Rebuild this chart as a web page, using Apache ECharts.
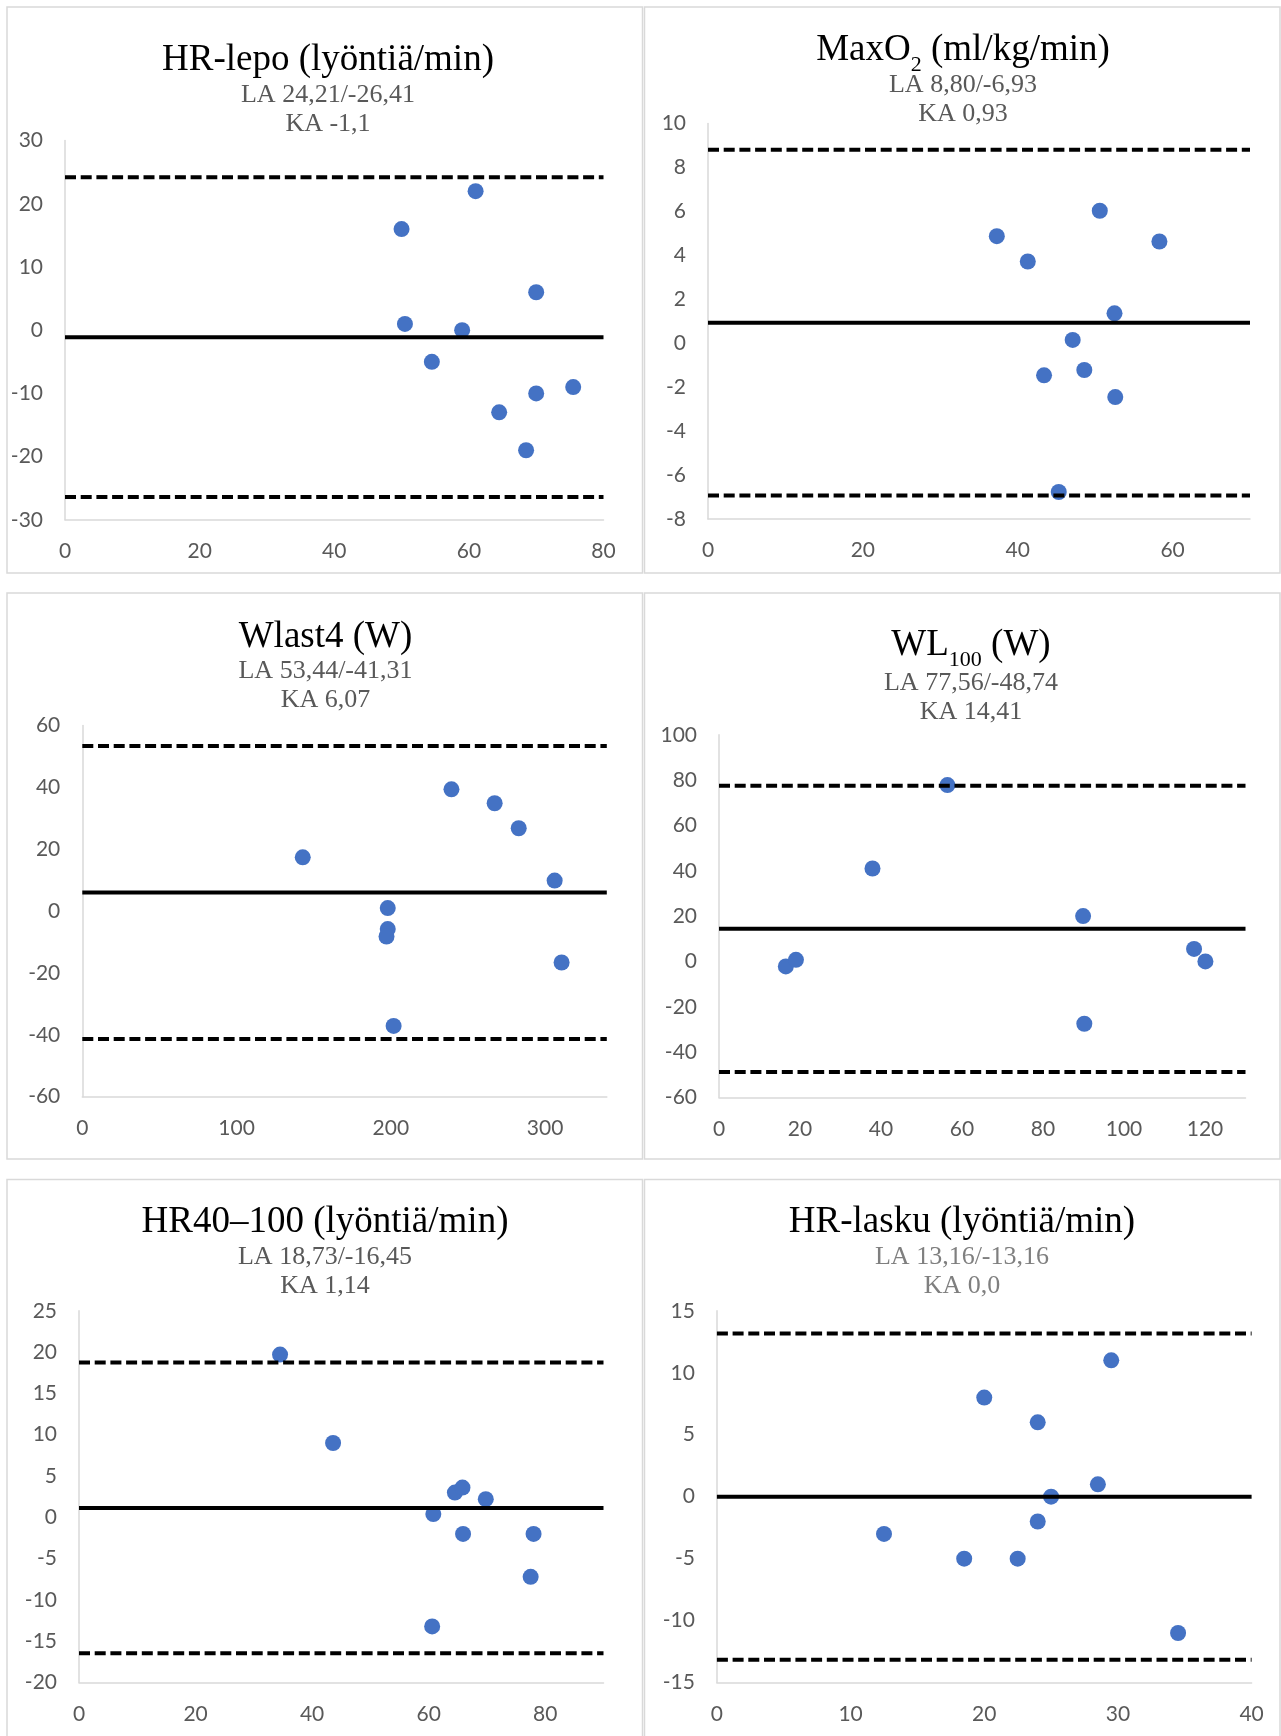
<!DOCTYPE html>
<html>
<head>
<meta charset="utf-8">
<title>Bland-Altman</title>
<script src="https://cdn.jsdelivr.net/npm/echarts@6/dist/echarts.min.js"></script>
<style>
  html, body { margin: 0; padding: 0; background: #fff; }
  #main { width: 1281px; height: 1736px; }
</style>
</head>
<body>
<div id="main"></div>
<script>
// HR-lepo (lyöntiä/min)
const hrLepoX = [50, 61, 50.5, 59, 70, 54.5, 70, 75.5, 64.5, 68.5];
const hrLepoY = [16, 22, 1, 0, 6, -5, -10, -9, -13, -19];
const hrLepoLimits = [24.21, -1.1, -26.41];

// MaxO2 (ml/kg/min)
const maxO2X = [37.3, 41.3, 50.6, 58.3, 52.5, 47.1, 43.4, 48.6, 52.6, 45.3];
const maxO2Y = [4.87, 3.72, 6.03, 4.63, 1.36, 0.15, -1.46, -1.22, -2.45, -6.77];
const maxO2Limits = [8.80, 0.93, -6.93];

// Wlast4 (W)
const wlast4X = [142.9, 239.3, 267.3, 282.9, 306.2, 198, 198, 197.2, 310.7, 201.8];
const wlast4Y = [17.4, 39.4, 34.9, 26.8, 9.9, 1.0, -5.8, -8.2, -16.6, -37.1];
const wlast4Limits = [53.44, 6.07, -41.31];

// WL100 (W)
const wl100X = [16.5, 19, 37.9, 56.4, 89.9, 90.2, 117.3, 120.1];
const wl100Y = [-2.2, 0.7, 41, 77.8, 20, -27.5, 5.5, 0];
const wl100Limits = [77.56, 14.41, -48.74];

// HR40-100 (lyöntiä/min)
const hr40X = [34.5, 43.6, 64.5, 65.8, 69.8, 60.8, 65.9, 78, 77.5, 60.6];
const hr40Y = [19.7, 9, 3, 3.6, 2.2, 0.4, -2, -2, -7.2, -13.2];
const hr40Limits = [18.73, 1.14, -16.45];

// HR-lasku (lyöntiä/min)
const hrLaskuX = [12.5, 18.5, 20, 22.5, 24, 24, 25, 28.5, 29.5, 34.5];
const hrLaskuY = [-3, -5, 8, -5, 6, -2, 0, 1, 11, -11];
const hrLaskuLimits = [13.16, 0, -13.16];

// axis scales: [min, max, interval]
const xScales = [[0, 80, 20], [0, 70, 20], [0, 340, 100], [0, 130, 20], [0, 90, 20], [0, 40, 10]];
const yScales = [[-30, 30, 10], [-8, 10, 2], [-60, 60, 20], [-60, 100, 20], [-20, 25, 5], [-15, 15, 5]];

const panels = [
  {
    x: hrLepoX, y: hrLepoY, limits: hrLepoLimits,
    title: [['HR-lepo (lyöntiä/min)', false]],
    info: ['LA 24,21/-26,41', 'KA -1,1'],
    grid: { left: 65, top: 140.6, width: 538.5, height: 379.2 },
    cx: 328, ty: [60.5, 95.5, 124.5],
    box: [7, 7, 635.5, 566]
  },
  {
    x: maxO2X, y: maxO2Y, limits: maxO2Limits,
    title: [['MaxO', false], ['2', true], [' (ml/kg/min)', false]],
    info: ['LA 8,80/-6,93', 'KA 0,93'],
    grid: { left: 708, top: 123.5, width: 542, height: 395.5 },
    cx: 963, ty: [50.5, 85.5, 114.5],
    box: [644.5, 7, 635.5, 566]
  },
  {
    x: wlast4X, y: wlast4Y, limits: wlast4Limits,
    title: [['Wlast4 (W)', false]],
    info: ['LA 53,44/-41,31', 'KA 6,07'],
    grid: { left: 82.3, top: 725.6, width: 524.5, height: 371.1 },
    cx: 325.5, ty: [637.5, 671.5, 700.3],
    box: [7, 593, 635.5, 566]
  },
  {
    x: wl100X, y: wl100Y, limits: wl100Limits,
    title: [['WL', false], ['100', true], [' (W)', false]],
    info: ['LA 77,56/-48,74', 'KA 14,41'],
    grid: { left: 719, top: 734.8, width: 526.5, height: 362.6 },
    cx: 971, ty: [645.5, 683.3, 712],
    box: [644.5, 593, 635.5, 566]
  },
  {
    x: hr40X, y: hr40Y, limits: hr40Limits,
    title: [['HR40–100 (lyöntiä/min)', false]],
    info: ['LA 18,73/-16,45', 'KA 1,14'],
    grid: { left: 79, top: 1310.8, width: 524.5, height: 371.8 },
    cx: 325, ty: [1222.3, 1257, 1286.6],
    box: [7, 1179.5, 635.5, 600]
  },
  {
    x: hrLaskuX, y: hrLaskuY, limits: hrLaskuLimits,
    title: [['HR-lasku (lyöntiä/min)', false]],
    info: ['LA 13,16/-13,16', 'KA 0,0'],
    infoColor: '#7f7f7f',
    grid: { left: 716.9, top: 1310.8, width: 534.7, height: 371.8 },
    cx: 962, ty: [1222.3, 1257, 1286.6],
    box: [644.5, 1179.5, 635.5, 600]
  }
];

const TITLE_FONT = '37px "Liberation Serif"';
const SUB_FONT = '22px "Liberation Serif"';
const INFO_FONT = '26px "Liberation Serif"';
const AXIS_COLOR = '#d9d9d9';
const LABEL_COLOR = '#595959';

const measureCtx = document.createElement('canvas').getContext('2d');
function textWidth(str, font) {
  measureCtx.font = font;
  return measureCtx.measureText(str).width;
}

// title made of parts, subscripts drawn smaller and lower
function titleTexts(cx, cy, parts) {
  const fonts = parts.map(p => p[1] ? SUB_FONT : TITLE_FONT);
  const widths = parts.map((p, i) => textWidth(p[0], fonts[i]));
  let x = cx - widths.reduce((a, b) => a + b, 0) / 2;
  return parts.map((p, i) => {
    const el = {
      type: 'text',
      x: x,
      y: cy + (p[1] ? 15 : 0),
      silent: true,
      style: {
        text: p[0], font: fonts[i], fill: '#000',
        align: 'left', textAlign: 'left',
        verticalAlign: 'middle', textVerticalAlign: 'middle'
      }
    };
    x += widths[i];
    return el;
  });
}

const grids = [], xAxes = [], yAxes = [], series = [], graphics = [];

panels.forEach((p, i) => {
  grids.push(Object.assign({ containLabel: false }, p.grid));

  const xs = xScales[i], ys = yScales[i];
  const lastX = xs[1] % xs[2] === 0;
  xAxes.push({
    gridIndex: i, type: 'value', min: xs[0], max: xs[1], interval: xs[2],
    axisLine: { show: true, onZero: false, lineStyle: { color: AXIS_COLOR, width: 1.5 } },
    axisTick: { show: false },
    splitLine: { show: false },
    axisLabel: { color: LABEL_COLOR, fontFamily: 'Lato', fontSize: 21, margin: 21, showMaxLabel: lastX }
  });
  yAxes.push({
    gridIndex: i, type: 'value', min: ys[0], max: ys[1], interval: ys[2],
    axisLine: { show: true, onZero: false, lineStyle: { color: AXIS_COLOR, width: 1.5 } },
    axisTick: { show: false },
    splitLine: { show: false },
    axisLabel: { color: LABEL_COLOR, fontFamily: 'Lato', fontSize: 21, margin: 22 }
  });

  // limits of agreement and mean difference
  p.limits.forEach((v, k) => {
    series.push({
      type: 'line', xAxisIndex: i, yAxisIndex: i,
      data: [[xs[0], v], [xs[1], v]],
      symbol: 'none', silent: true,
      lineStyle: k === 1
        ? { color: '#000', width: 4 }
        : { color: '#000', width: 4, type: [11, 4.7] }
    });
  });

  series.push({
    type: 'scatter', xAxisIndex: i, yAxisIndex: i,
    symbolSize: 16,
    itemStyle: { color: '#4472C4', opacity: 1 },
    data: p.x.map((v, k) => [v, p.y[k]])
  });

  graphics.push({
    type: 'rect', silent: true, z: -1,
    shape: { x: p.box[0], y: p.box[1], width: p.box[2], height: p.box[3] },
    style: { fill: 'none', stroke: AXIS_COLOR, lineWidth: 1.5 }
  });

  titleTexts(p.cx, p.ty[0], p.title).forEach(t => graphics.push(t));

  p.info.forEach((line, k) => {
    graphics.push({
      type: 'text', x: p.cx, y: p.ty[k + 1], silent: true,
      style: {
        text: line, font: INFO_FONT, fill: p.infoColor || LABEL_COLOR,
        align: 'center', textAlign: 'center',
        verticalAlign: 'middle', textVerticalAlign: 'middle'
      }
    });
  });
});

const chart = echarts.init(document.getElementById('main'), null, { renderer: 'canvas' });
chart.setOption({
  animation: false,
  backgroundColor: '#fff',
  grid: grids,
  xAxis: xAxes,
  yAxis: yAxes,
  series: series,
  graphic: graphics
});
</script>
</body>
</html>
